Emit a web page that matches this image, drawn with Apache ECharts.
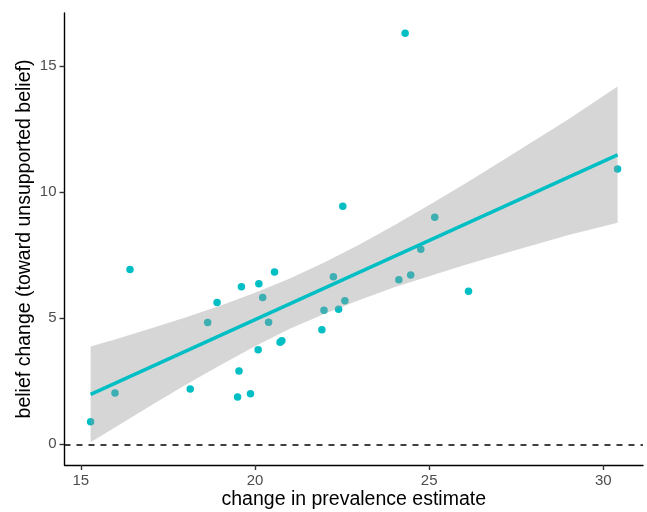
<!DOCTYPE html>
<html>
<head>
<meta charset="utf-8">
<script src="https://cdn.jsdelivr.net/npm/echarts@6/dist/echarts.min.js"></script>
<style>
  html, body { margin: 0; padding: 0; background: #fff; }
  #chart { width: 647px; height: 512px; }
</style>
</head>
<body>
<div id="chart"></div>
<script>
// points: change in prevalence estimate (x) vs belief change (y)
const pointX = [15.28, 15.98, 16.41, 18.14, 18.64, 18.91, 19.50, 19.54, 19.61, 19.87,
  20.09, 20.11, 20.22, 20.39, 20.56, 20.72, 20.77, 21.92, 21.98, 22.25,
  22.40, 22.52, 22.58, 24.13, 24.31, 24.47, 24.76, 25.16, 26.13, 30.41]
const pointY = [0.90, 2.04, 6.94, 2.19, 4.83, 5.63, 1.88, 2.91, 6.25, 2.01,
  3.75, 6.37, 5.82, 4.84, 6.84, 4.05, 4.11, 4.55, 5.32, 6.65,
  5.36, 9.44, 5.70, 6.53, 16.31, 6.72, 7.74, 9.01, 6.07, 10.92]

// fitted line end points
const fitX = [15.28, 30.41]
const fitY = [1.98, 11.48]

// confidence band
const bandX = [15.28, 16, 17, 18, 19, 20, 21, 22, 23, 24, 25, 26, 27, 28, 29, 30.41]
const bandLow = [0.08, 0.69, 1.53, 2.35, 3.14, 3.89, 4.58, 5.18, 5.73, 6.23, 6.67, 7.10, 7.51, 7.91, 8.30, 8.79]
const bandHigh = [3.88, 4.17, 4.59, 5.03, 5.50, 6.01, 6.58, 7.22, 7.93, 8.69, 9.49, 10.32, 11.17, 12.03, 12.90, 14.19]

const xTicks = [15, 20, 25, 30]
const yTicks = [0, 5, 10, 15]

const TEAL = '#00BFC4'
const FONT = "'Liberation Sans', Arial, sans-serif"

const AXIS = {
  type: 'value',
  splitLine: { show: false },
  axisLine: { show: true, onZero: false, lineStyle: { color: '#000', width: 1.4 } },
  axisTick: { show: true, length: 5, customValues: null, lineStyle: { color: '#333', width: 1.4 } },
  axisLabel: { color: '#4D4D4D', fontSize: 15, fontFamily: FONT, margin: 8 },
  nameLocation: 'middle',
  nameMoveOverlap: false,
  nameTextStyle: { color: '#000', fontSize: 19.5, fontFamily: FONT },
}

const chart = echarts.init(document.getElementById('chart'))

const option = {
  animation: false,
  backgroundColor: '#fff',
  grid: { left: 64.5, right: 4, top: 13, bottom: 47, containLabel: false, outerBoundsMode: 'none' },
  xAxis: {
    ...AXIS,
    min: 14.53,
    max: 31.14,
    name: 'change in prevalence estimate',
    nameGap: 25,
    axisTick: { ...AXIS.axisTick, customValues: xTicks },
    axisLabel: { ...AXIS.axisLabel, customValues: xTicks },
  },
  yAxis: {
    ...AXIS,
    min: -0.82,
    max: 17.11,
    name: 'belief change (toward unsupported belief)',
    nameGap: 30,
    axisTick: { ...AXIS.axisTick, customValues: yTicks },
    axisLabel: { ...AXIS.axisLabel, customValues: yTicks },
  },
  series: [
    {
      type: 'scatter',
      z: 2,
      symbolSize: 7.5,
      itemStyle: { color: TEAL, opacity: 1 },
      data: pointX.map((x, i) => [x, pointY[i]]),
      markLine: {
        silent: true,
        symbol: 'none',
        label: { show: false },
        lineStyle: { color: '#000', width: 1.6, type: [6, 6] },
        data: [{ yAxis: 0 }],
      },
    },
    {
      // 置信带
      type: 'custom',
      z: 3,
      silent: true,
      data: bandX.map((x, i) => [x, bandLow[i], bandHigh[i]]),
      encode: { x: 0, y: [1, 2] },
      renderItem: (params, api) => {
        if (params.dataIndex !== 0) return null
        const upper = bandX.map((x, i) => api.coord([x, bandHigh[i]]))
        const lower = bandX.map((x, i) => api.coord([x, bandLow[i]])).reverse()
        return {
          type: 'polygon',
          shape: { points: upper.concat(lower) },
          style: { fill: 'rgba(153,153,153,0.4)', stroke: null },
        }
      },
    },
    {
      type: 'line',
      z: 4,
      showSymbol: false,
      lineStyle: { color: TEAL, width: 3.5 },
      data: fitX.map((x, i) => [x, fitY[i]]),
    },
  ],
}

chart.setOption(option)
</script>
</body>
</html>
